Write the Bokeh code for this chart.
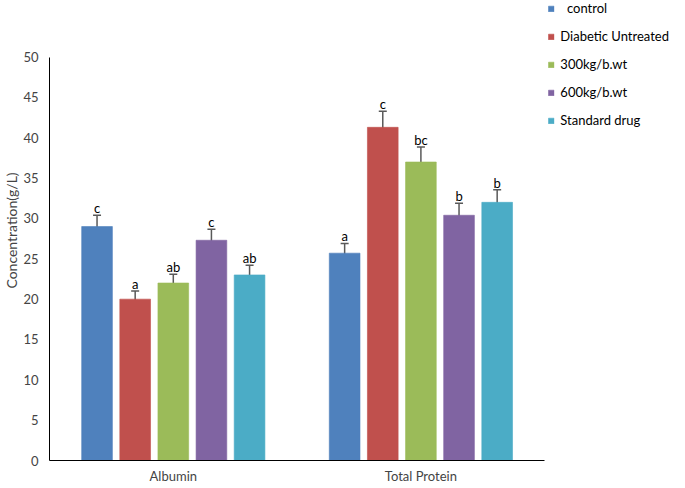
from bokeh.plotting import figure
from bokeh.models import (ColumnDataSource, Whisker, TeeHead, Legend,
                          LegendItem, Range1d, SingleIntervalTicker, FixedTicker)
from bokeh.core.properties import value
from bokeh.embed import file_html
from bokeh.resources import INLINE

categories = ["Albumin", "Total Protein"]
series = ["\u00a0\u00a0control", "Diabetic Untreated", "300kg/b.wt", "600kg/b.wt", "Standard drug"]
colors = ["#4F81BD", "#C0504D", "#9BBB59", "#8064A2", "#4BACC6"]

control = [29.0, 25.7]
diabetic = [20.0, 41.3]
dose300 = [22.0, 37.0]
dose600 = [27.3, 30.4]
standard = [23.0, 32.0]

control_err = [1.4, 1.2]
diabetic_err = [1.0, 2.0]
dose300_err = [1.1, 1.85]
dose600_err = [1.35, 1.5]
standard_err = [1.2, 1.55]

control_sig = ["c", "a"]
diabetic_sig = ["a", "c"]
dose300_sig = ["ab", "bc"]
dose600_sig = ["c", "b"]
standard_sig = ["ab", "b"]

y_tick_step = 5
y_max = 50

values = [control, diabetic, dose300, dose600, standard]
errors = [control_err, diabetic_err, dose300_err, dose600_err, standard_err]
letters = [control_sig, diabetic_sig, dose300_sig, dose600_sig, standard_sig]

FONT = "Lato"

# layout (pixels)
W, H = 669, 486
LEFT, BOTTOM = 43, 23
TOP_GAP = 57            # pixels above the y=50 line, used by the legend
frame_h = H - BOTTOM
frame_w = W - LEFT
cat_px = 250            # pixels per category

y_end = y_max * frame_h / (frame_h - TOP_GAP)
x_end = frame_w / cat_px

p = figure(x_range=Range1d(0, x_end), y_range=Range1d(0, y_end),
           width=W, height=H, output_backend="svg", toolbar_location=None,
           min_border_left=LEFT, min_border_right=0, min_border_top=0,
           min_border_bottom=BOTTOM)
p.outline_line_color = None
p.xgrid.grid_line_color = None
p.ygrid.grid_line_color = None

step = 0.154
bar_w = 0.124
centers = [i + 0.5 for i in range(len(categories))]

items = []
for i in range(len(series)):
    off = (i - 2) * step
    xs = [c + off for c in centers]
    src = ColumnDataSource(dict(
        x=xs,
        top=values[i],
        upper=[v + e for v, e in zip(values[i], errors[i])],
        lower=[v - e for v, e in zip(values[i], errors[i])],
        sig=letters[i],
    ))
    r = p.vbar(x="x", top="top", width=bar_w, source=src,
               fill_color=colors[i], line_color=colors[i], line_alpha=0.6)
    w = Whisker(source=src, base="x", upper="upper", lower="lower",
                line_color="#595959", line_width=1.5,
                upper_head=TeeHead(size=8, line_color="#595959", line_width=1.5),
                lower_head=TeeHead(size=8, line_color="#595959", line_width=1.5))
    p.add_layout(w)
    p.text(x="x", y="upper", text="sig", source=src, text_align="center",
           text_baseline="bottom", y_offset=1, text_font=value(FONT),
           text_font_size="13px", text_color="#000000")
    items.append(LegendItem(label=series[i], renderers=[r]))

legend = Legend(items=items, location="top_right", orientation="vertical",
                glyph_width=7, glyph_height=7, label_height=16, spacing=12,
                label_standoff=6, padding=0, margin=0,
                border_line_alpha=0, background_fill_alpha=0,
                label_text_font=FONT, label_text_font_size="13px",
                label_text_color="#000000")
p.add_layout(legend)

for ax in (p.xaxis, p.yaxis):
    ax.major_tick_out = 0
    ax.major_tick_in = 0
    ax.minor_tick_out = 0
    ax.minor_tick_in = 0
    ax.major_tick_line_color = None
    ax.minor_tick_line_color = None
    ax.axis_line_color = "#000000"
    ax.major_label_text_font = FONT
    ax.major_label_text_font_size = "13px"

p.yaxis.ticker = SingleIntervalTicker(interval=y_tick_step)
p.yaxis.bounds = (0, y_max)
p.yaxis.axis_label = "Concentration(g/L)"
p.yaxis.axis_label_text_font = FONT
p.yaxis.axis_label_text_font_style = "normal"
p.yaxis.axis_label_text_font_size = "14px"
p.yaxis.axis_label_standoff = 0
p.yaxis.major_label_standoff = 11

p.xaxis.ticker = FixedTicker(ticks=centers)
p.xaxis.major_label_overrides = {c: name for c, name in zip(centers, categories)}
p.xaxis.bounds = (0, len(categories))
p.xaxis.major_label_standoff = 7

open("out.html", "w").write(file_html(p, INLINE))
